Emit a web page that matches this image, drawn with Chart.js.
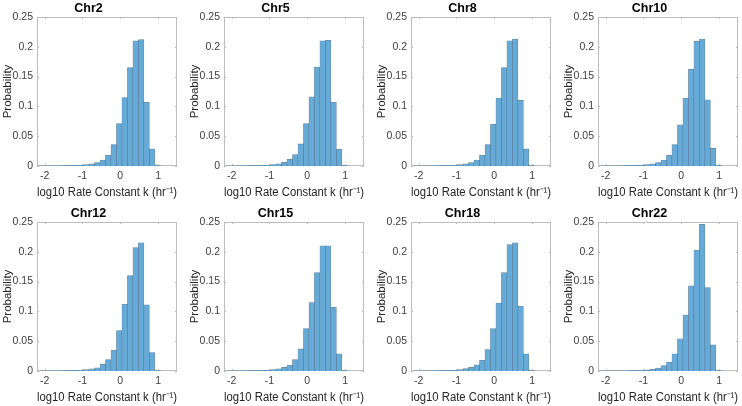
<!DOCTYPE html>
<html>
<head>
<meta charset="utf-8">
<script src="https://cdn.jsdelivr.net/npm/chart.js@4"></script>
<style>
  body { margin: 0; background: #fff; width: 742px; height: 406px; overflow: hidden; position: relative; }
  .celda { position: absolute; width: 181px; height: 203px; }
</style>
</head>
<body>
<script>
// centros de los bins (log10 k), iguales para todos los cromosomas
const centros = [-2.0575, -1.9125, -1.7675, -1.6225, -1.4775, -1.3325, -1.1875, -1.0425, -0.8975, -0.7525,
                 -0.6075, -0.4625, -0.3175, -0.1725, -0.0275, 0.1175, 0.2625, 0.4075, 0.5525, 0.6975, 0.8425, 0.9875];
const ticksX = [-2, -1, 0, 1];
const ticksY = [0, 0.05, 0.1, 0.15, 0.2, 0.25];

const titulos = ['Chr2', 'Chr5', 'Chr8', 'Chr10', 'Chr12', 'Chr15', 'Chr18', 'Chr22'];
const chr2  = [0.0001, 0.0002, 0.0003, 0.0004, 0.0005, 0.0008, 0.0010, 0.0015, 0.0022, 0.0035, 0.0058, 0.010, 0.018, 0.036, 0.071, 0.115, 0.165, 0.210, 0.212, 0.107, 0.029, 0.0008];
const chr5  = [0.0001, 0.0002, 0.0003, 0.0004, 0.0006, 0.0008, 0.0011, 0.0016, 0.0024, 0.0037, 0.0060, 0.011, 0.019, 0.037, 0.071, 0.116, 0.166, 0.210, 0.211, 0.107, 0.028, 0.0008];
const chr8  = [0.0001, 0.0002, 0.0003, 0.0004, 0.0005, 0.0008, 0.0011, 0.0015, 0.0022, 0.0035, 0.0058, 0.010, 0.018, 0.036, 0.070, 0.114, 0.165, 0.210, 0.213, 0.110, 0.029, 0.0008];
const chr10 = [0.0001, 0.0002, 0.0003, 0.0004, 0.0005, 0.0008, 0.0010, 0.0015, 0.0023, 0.0037, 0.0058, 0.010, 0.018, 0.036, 0.069, 0.114, 0.162, 0.209, 0.213, 0.111, 0.030, 0.0015];
const chr12 = [0.0001, 0.0002, 0.0003, 0.0004, 0.0006, 0.0009, 0.0012, 0.0017, 0.0025, 0.0037, 0.0055, 0.011, 0.019, 0.035, 0.068, 0.112, 0.160, 0.207, 0.215, 0.111, 0.031, 0.0008];
const chr15 = [0.0001, 0.0002, 0.0003, 0.0004, 0.0005, 0.0008, 0.0011, 0.0016, 0.0023, 0.0036, 0.0060, 0.010, 0.019, 0.037, 0.071, 0.115, 0.165, 0.210, 0.210, 0.107, 0.029, 0.0008];
const chr18 = [0.0001, 0.0002, 0.0003, 0.0004, 0.0005, 0.0008, 0.0011, 0.0016, 0.0024, 0.0040, 0.0060, 0.0105, 0.018, 0.036, 0.071, 0.114, 0.165, 0.212, 0.215, 0.109, 0.029, 0.0009];
const chr22 = [0.0001, 0.0001, 0.0002, 0.0003, 0.0004, 0.0006, 0.0008, 0.0012, 0.0018, 0.0030, 0.0050, 0.009, 0.015, 0.029, 0.054, 0.094, 0.143, 0.203, 0.246, 0.140, 0.044, 0.0008];
const valores = [chr2, chr5, chr8, chr10, chr12, chr15, chr18, chr22];

// donde va cada celda (4 columnas x 2 filas)
const posX = [0, 187, 374, 561];
const posY = [0, 205];

Chart.defaults.font.family = "'Liberation Sans', Arial, Helvetica, sans-serif";

// caja gris y rayitas de ticks hacia dentro, como en matlab
const cajaMatlab = {
    id: 'cajaMatlab',
    beforeDatasetsDraw(chart) {
        const { ctx, chartArea: a, scales: { x, y } } = chart;
        ctx.save();
        ctx.strokeStyle = '#bdbdbd';
        ctx.lineWidth = 1;
        ctx.strokeRect(a.left + 0.5, a.top + 0.5, a.width - 1, a.height - 1);
        ctx.beginPath();
        x.ticks.forEach(t => {
            const px = Math.round(x.getPixelForValue(t.value)) + 0.5;
            ctx.moveTo(px, a.bottom); ctx.lineTo(px, a.bottom - 2);
            ctx.moveTo(px, a.top); ctx.lineTo(px, a.top + 2);
        });
        y.ticks.forEach(t => {
            const py = Math.round(y.getPixelForValue(t.value)) + 0.5;
            ctx.moveTo(a.left, py); ctx.lineTo(a.left + 2, py);
            ctx.moveTo(a.right, py); ctx.lineTo(a.right - 2, py);
        });
        ctx.stroke();
        ctx.restore();
    }
};

function dibujarHistograma(hoja, titulo, datos) {
    return new Chart(hoja, {
        type: 'bar',
        data: {
            datasets: [{
                data: centros.map((c, i) => ({ x: c, y: datos[i] })),
                backgroundColor: 'rgb(102,170,215)',
                borderColor: 'rgba(40,80,115,0.7)',
                borderWidth: 0.6,
                borderSkipped: 'start',
                barPercentage: 1,
                categoryPercentage: 1
            }]
        },
        options: {
            responsive: false,
            animation: false,
            devicePixelRatio: 1,
            layout: { padding: { right: 4 } },
            plugins: {
                legend: { display: false },
                tooltip: { enabled: false },
                title: {
                    display: true, text: titulo, color: '#000',
                    font: { size: 12.5, weight: 'bold', lineHeight: '14px' },
                    padding: { top: 2, bottom: 1 }
                }
            },
            scales: {
                x: {
                    type: 'linear', min: -2.2, max: 1.5, offset: false,
                    grid: { display: false, drawTicks: false, offset: false },
                    border: { display: false },
                    afterBuildTicks: s => { s.ticks = ticksX.map(v => ({ value: v })); },
                    afterFit: s => { s.height = 37; },
                    ticks: { padding: 4, color: '#404040', font: { size: 10.5 }, maxRotation: 0, autoSkip: false, callback: v => String(v) },
                    title: { display: true, text: 'log10 Rate Constant k (hr⁻¹)', color: '#262626', font: { size: 12 }, padding: { top: 0, bottom: 3 } }
                },
                y: {
                    min: 0, max: 0.25,
                    grid: { display: false, drawTicks: false },
                    border: { display: false },
                    afterBuildTicks: s => { s.ticks = ticksY.map(v => ({ value: v })); },
                    afterFit: s => { s.width = 37; },
                    ticks: { padding: 4, color: '#404040', font: { size: 10.5 }, autoSkip: false, callback: v => String(v) },
                    title: { display: true, text: 'Probability', color: '#262626', font: { size: 11.5 }, padding: { top: 1, bottom: 0 } }
                }
            }
        },
        plugins: [cajaMatlab]
    });
}

titulos.forEach((t, i) => {
    const celda = document.createElement('div');
    celda.className = 'celda';
    celda.style.left = posX[i % 4] + 'px';
    celda.style.top = posY[Math.floor(i / 4)] + 'px';
    const lienzo = document.createElement('canvas');
    lienzo.width = 181;
    lienzo.height = 203;
    celda.appendChild(lienzo);
    document.body.appendChild(celda);
    dibujarHistograma(lienzo.getContext('2d'), t, valores[i]);
});
</script>
</body>
</html>
